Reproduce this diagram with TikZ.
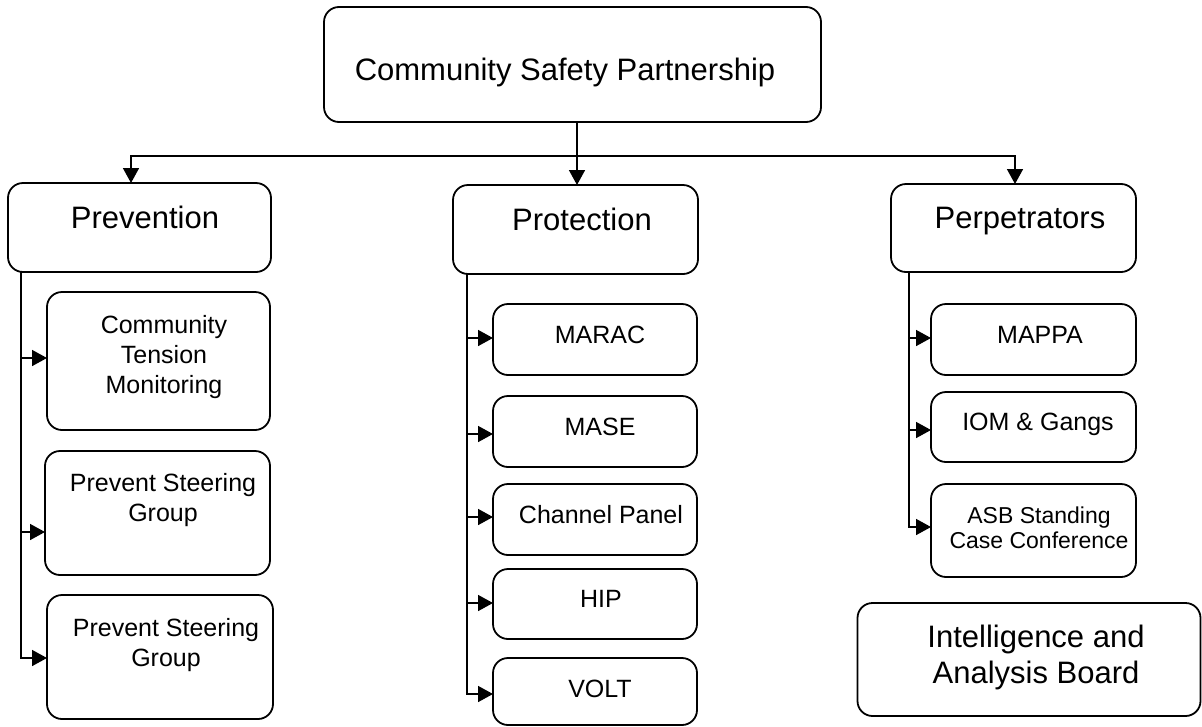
\documentclass[tikz,border=0pt]{standalone}
\usepackage{fontspec}
\setmainfont{Liberation Sans}
\usetikzlibrary{arrows.meta}
\tikzset{
  box/.style={draw=black, line width=1.8pt, rounded corners=15pt, inner sep=0pt, outer sep=0pt},
  big/.style={font=\fontsize{31}{36}\selectfont, align=center, anchor=base, inner sep=0pt},
  small/.style={font=\fontsize{25}{30}\selectfont, align=center, anchor=base, inner sep=0pt},
  tiny/.style={font=\fontsize{23}{25}\selectfont, align=center, anchor=base, inner sep=0pt},
  conn/.style={draw=black, line width=1.6pt},
  arr/.style={conn, -{Triangle[length=15pt,width=16pt]}}
}
\begin{document}
\begin{tikzpicture}[x=1pt,y=-1pt]
\useasboundingbox (0,0) rectangle (1202,726);
% boxes
\node[box, minimum width=497pt, minimum height=115pt] (csp) at (572.5,64.5) {};
\node[box, minimum width=263pt, minimum height=89pt] (prev) at (139.5,227.5) {};
\node[box, minimum width=245pt, minimum height=89pt] (prot) at (575.5,229.5) {};
\node[box, minimum width=245pt, minimum height=88pt] (perp) at (1013.5,228) {};
\node[box, minimum width=223pt, minimum height=138pt] (ctm) at (158.5,361) {};
\node[box, minimum width=225pt, minimum height=124pt] (psga) at (157.5,513) {};
\node[box, minimum width=226pt, minimum height=124pt] (psgb) at (160,657) {};
\node[box, minimum width=204pt, minimum height=71pt] (marac) at (595,339.5) {};
\node[box, minimum width=204pt, minimum height=71pt] (mase) at (595,431.5) {};
\node[box, minimum width=204pt, minimum height=71pt] (chan) at (595,519.5) {};
\node[box, minimum width=204pt, minimum height=70pt] (hip) at (595,604) {};
\node[box, minimum width=204pt, minimum height=67pt] (volt) at (595,691.5) {};
\node[box, minimum width=205pt, minimum height=71pt] (mappa) at (1033.5,339.5) {};
\node[box, minimum width=205pt, minimum height=70pt] (iom) at (1033.5,427) {};
\node[box, minimum width=205pt, minimum height=93pt] (asb) at (1033.5,530.5) {};
\node[box, minimum width=343pt, minimum height=113pt] (iab) at (1029,659.5) {};
% texts (base anchor = baseline of the last line)
\node[big] (tcsp) at (565,80) {Community Safety Partnership};
\node[big] (tprev) at (145,228) {Prevention};
\node[big] (tprot) at (582,230) {Protection};
\node[big] (tperp) at (1020,228) {Perpetrators};
\node[small] (tctm) at (164,393) {Community\\Tension\\Monitoring};
\node[small] (tpsga) at (163,521) {Prevent Steering\\Group};
\node[small] (tpsgb) at (166,666) {Prevent Steering\\Group};
\node[small] (tmarac) at (600,343) {MARAC};
\node[small] (tmase) at (600,435) {MASE};
\node[small] (tchan) at (601,523) {Channel Panel};
\node[small] (thip) at (601,607) {HIP};
\node[small] (tvolt) at (600,697) {VOLT};
\node[small] (tmappa) at (1040,343) {MAPPA};
\node[small] (tiom) at (1038,430) {IOM \& Gangs};
\node[tiny] (tasb) at (1039,548) {ASB Standing\\Case Conference};
\node[big] (tiab) at (1036,683) {Intelligence and\\Analysis Board};
% bus
\coordinate (bus) at (577,156);
\coordinate (bl) at (131,156);
\coordinate (br) at (1015,156);
\draw[arr] (csp.south -| bus) -- (bus |- prot.north);
\draw[arr] (bus) -- (bl) -- (bl |- prev.north);
\draw[arr] (bus) -- (br) -- (br |- perp.north);
% prevention children
\coordinate (pv) at (21,0);
\draw[arr] (prev.south -| pv) |- (ctm.west |- 0,358);
\draw[arr] (prev.south -| pv) |- (psga.west |- 0,532);
\draw[arr] (prev.south -| pv) |- (psgb.west |- 0,658);
% protection children
\coordinate (tv) at (467,0);
\draw[arr] (prot.south -| tv) |- (marac.west |- 0,338);
\draw[arr] (prot.south -| tv) |- (mase.west |- 0,434);
\draw[arr] (prot.south -| tv) |- (chan.west |- 0,517);
\draw[arr] (prot.south -| tv) |- (hip.west |- 0,603);
\draw[arr] (prot.south -| tv) |- (volt.west |- 0,694);
% perpetrators children
\coordinate (rv) at (909,0);
\draw[arr] (perp.south -| rv) |- (mappa.west |- 0,338);
\draw[arr] (perp.south -| rv) |- (iom.west |- 0,430);
\draw[arr] (perp.south -| rv) |- (asb.west |- 0,527);
\end{tikzpicture}
\end{document}
